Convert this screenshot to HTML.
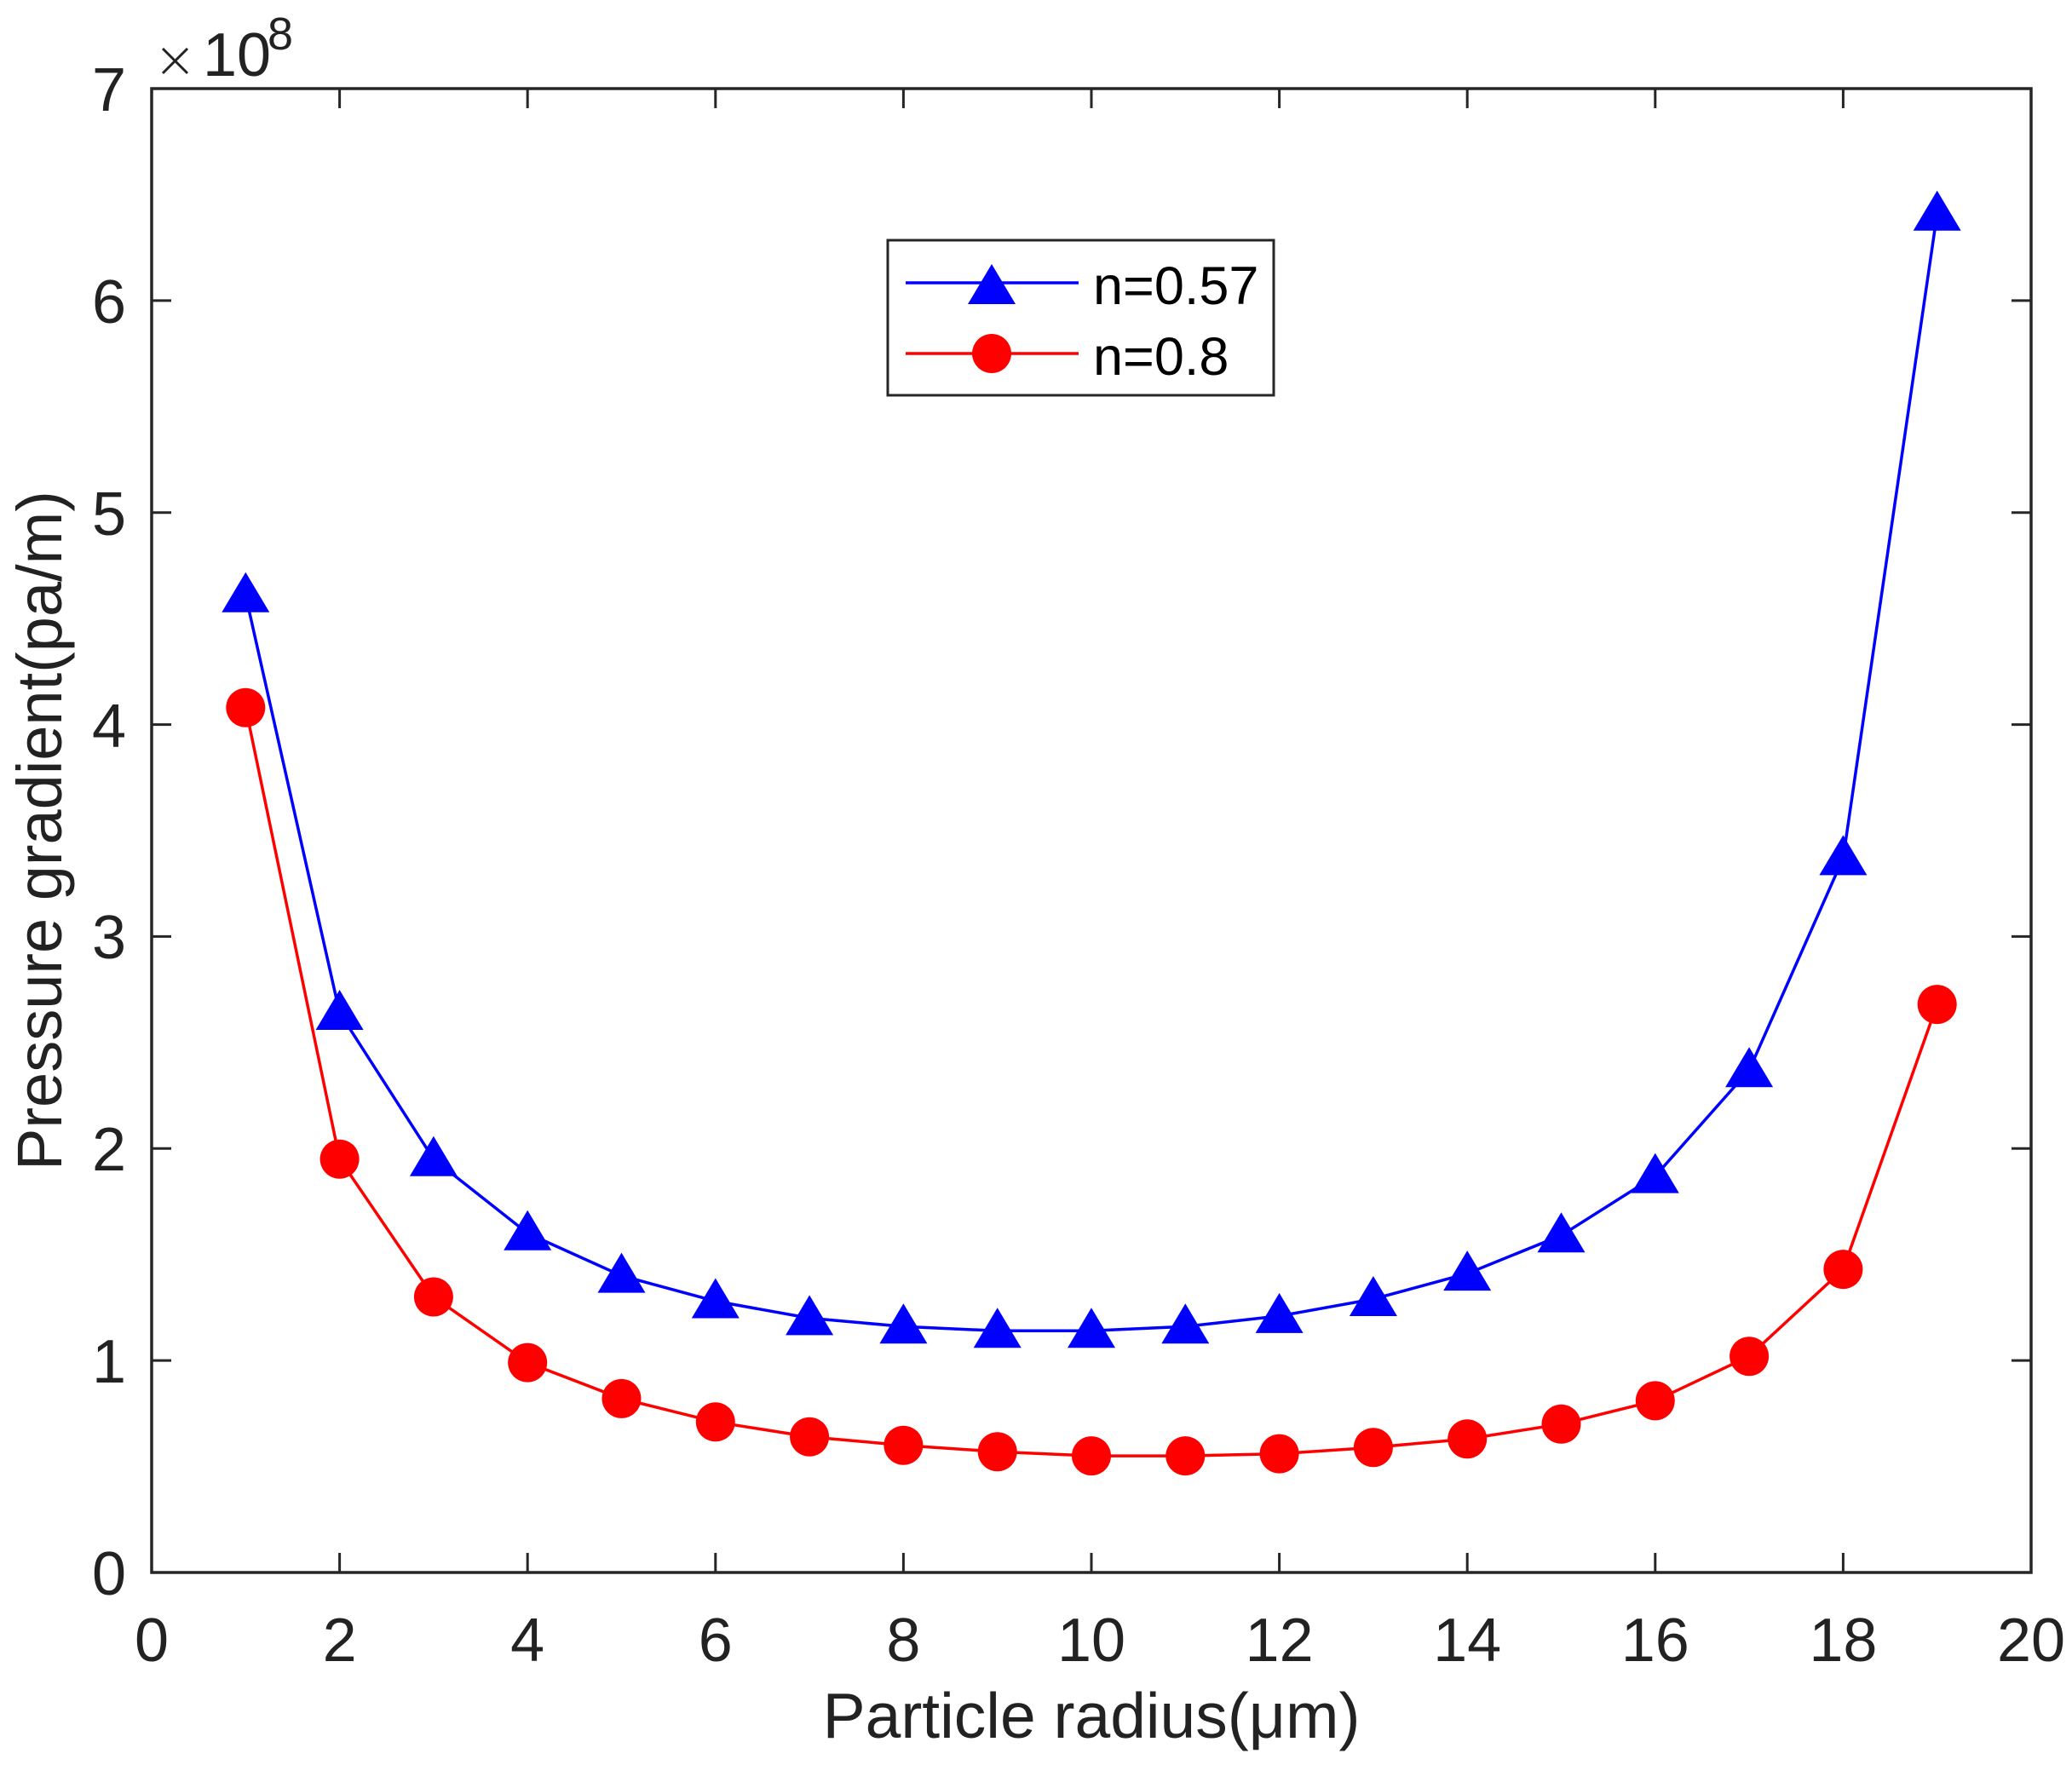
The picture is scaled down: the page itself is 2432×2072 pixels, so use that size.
<!DOCTYPE html>
<html><head><meta charset="utf-8"><style>
html,body{margin:0;padding:0;background:#fff;}
svg{display:block;}
text{font-family:"Liberation Sans",Arial,sans-serif;fill:#222;}
</style></head><body>
<svg width="2432" height="2072" viewBox="0 0 2432 2072" xmlns="http://www.w3.org/2000/svg">
<defs>
<polygon id="t" points="0,-27 -28,20 28,20" fill="#0000ff"/>
<circle id="c" cx="0" cy="0" r="23" fill="#ff0000"/>
</defs>
<rect width="2432" height="2072" fill="#fff"/>
<rect x="178" y="104" width="2206" height="1742" fill="none" stroke="#262626" stroke-width="3.5"/>
<g stroke="#262626" stroke-width="3">
<path d="M398.6,1846v-23M619.2,1846v-23M839.8,1846v-23M1060.4,1846v-23M1281,1846v-23M1501.6,1846v-23M1722.2,1846v-23M1942.8,1846v-23M2163.4,1846v-23"/>
<path d="M398.6,104v23M619.2,104v23M839.8,104v23M1060.4,104v23M1281,104v23M1501.6,104v23M1722.2,104v23M1942.8,104v23M2163.4,104v23"/>
<path d="M178,1597.1h23M178,1348.3h23M178,1099.4h23M178,850.6h23M178,601.7h23M178,352.9h23"/>
<path d="M2384,1597.1h-23M2384,1348.3h-23M2384,1099.4h-23M2384,850.6h-23M2384,601.7h-23M2384,352.9h-23"/>
</g>
<g font-size="72" text-anchor="middle">
<text x="178" y="1950">0</text><text x="398.6" y="1950">2</text><text x="619.2" y="1950">4</text><text x="839.8" y="1950">6</text><text x="1060.4" y="1950">8</text><text x="1281" y="1950">10</text><text x="1501.6" y="1950">12</text><text x="1722.2" y="1950">14</text><text x="1942.8" y="1950">16</text><text x="2163.4" y="1950">18</text><text x="2384" y="1950">20</text>
</g>
<g font-size="72" text-anchor="end">
<text x="148" y="1872">0</text><text x="148" y="1623">1</text><text x="148" y="1374">2</text><text x="148" y="1125">3</text><text x="148" y="877">4</text><text x="148" y="628">5</text><text x="148" y="379">6</text><text x="148" y="130">7</text>
</g>
<line x1="191" y1="57" x2="220" y2="86" stroke="#222" stroke-width="3"/>
<line x1="220" y1="57" x2="191" y2="86" stroke="#222" stroke-width="3"/>
<text x="238" y="89" font-size="72">10</text><text x="314" y="58" font-size="54">8</text>
<text x="1281" y="2040" font-size="75" text-anchor="middle">Particle radius(μm)</text>
<text transform="translate(72,975) rotate(-90)" font-size="74" text-anchor="middle">Pressure gradient(pa/m)</text>
<polyline fill="none" stroke="#0000ff" stroke-width="3.5" points="288.3,698.8 398.6,1189 508.9,1360.7 619.2,1447.8 729.5,1497.6 839.8,1527.5 950.1,1547.4 1060.4,1557.3 1170.7,1562.3 1281,1562.3 1391.3,1557.3 1501.6,1544.9 1611.9,1525 1722.2,1495.1 1832.5,1450.3 1942.8,1380.6 2053.1,1256.2 2163.4,1007.4 2273.7,250.8"/>
<polyline fill="none" stroke="#ff0000" stroke-width="3.5" points="288.3,830.7 398.6,1360.7 508.9,1522.5 619.2,1599.6 729.5,1641.9 839.8,1669.3 950.1,1686.7 1060.4,1696.7 1170.7,1704.2 1281,1709.1 1391.3,1709.1 1501.6,1706.6 1611.9,1699.2 1722.2,1689.2 1832.5,1671.8 1942.8,1644.4 2053.1,1592.2 2163.4,1490.1 2273.7,1179.1"/>
<g>
<use href="#t" x="288.3" y="698.8"/><use href="#t" x="398.6" y="1189"/><use href="#t" x="508.9" y="1360.7"/><use href="#t" x="619.2" y="1447.8"/><use href="#t" x="729.5" y="1497.6"/><use href="#t" x="839.8" y="1527.5"/><use href="#t" x="950.1" y="1547.4"/><use href="#t" x="1060.4" y="1557.3"/><use href="#t" x="1170.7" y="1562.3"/><use href="#t" x="1281" y="1562.3"/><use href="#t" x="1391.3" y="1557.3"/><use href="#t" x="1501.6" y="1544.9"/><use href="#t" x="1611.9" y="1525"/><use href="#t" x="1722.2" y="1495.1"/><use href="#t" x="1832.5" y="1450.3"/><use href="#t" x="1942.8" y="1380.6"/><use href="#t" x="2053.1" y="1256.2"/><use href="#t" x="2163.4" y="1007.4"/><use href="#t" x="2273.7" y="250.8"/>
<use href="#c" x="288.3" y="830.7"/><use href="#c" x="398.6" y="1360.7"/><use href="#c" x="508.9" y="1522.5"/><use href="#c" x="619.2" y="1599.6"/><use href="#c" x="729.5" y="1641.9"/><use href="#c" x="839.8" y="1669.3"/><use href="#c" x="950.1" y="1686.7"/><use href="#c" x="1060.4" y="1696.7"/><use href="#c" x="1170.7" y="1704.2"/><use href="#c" x="1281" y="1709.1"/><use href="#c" x="1391.3" y="1709.1"/><use href="#c" x="1501.6" y="1706.6"/><use href="#c" x="1611.9" y="1699.2"/><use href="#c" x="1722.2" y="1689.2"/><use href="#c" x="1832.5" y="1671.8"/><use href="#c" x="1942.8" y="1644.4"/><use href="#c" x="2053.1" y="1592.2"/><use href="#c" x="2163.4" y="1490.1"/><use href="#c" x="2273.7" y="1179.1"/>
</g>
<rect x="1042" y="282" width="453" height="182" fill="#fff" stroke="#262626" stroke-width="3"/>
<line x1="1063" y1="332" x2="1266" y2="332" stroke="#0000ff" stroke-width="3.5"/>
<use href="#t" x="1164" y="337"/>
<line x1="1063" y1="415" x2="1266" y2="415" stroke="#ff0000" stroke-width="3.5"/>
<use href="#c" x="1164" y="415"/>
<text x="1283" y="357" font-size="63" style="fill:#000">n=0.57</text>
<text x="1283" y="440" font-size="63" style="fill:#000">n=0.8</text>
</svg>
</body></html>
